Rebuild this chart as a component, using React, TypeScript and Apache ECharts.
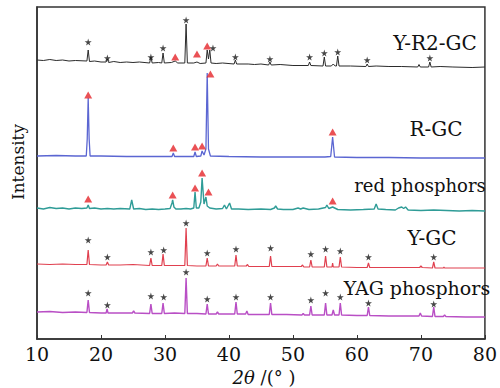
import React, { useEffect, useRef } from "react";
import * as echarts from "echarts";

const xTicks = [10, 20, 30, 40, 50, 60, 70, 80];
const seriesNames = ["Y-R2-GC", "R-GC", "red phosphors", "Y-GC", "YAG phosphors"];

const yr2gc: [number, number][] = [
  [10,279],[11,278.5],[12,279.5],[13,278.5],[14,279],[15,278],[16,278.5],[17.8,278],[18.0,289],[18.2,277.5],[19,278],[20,277],[20.8,277],[21.0,280],[21.2,276.5],[22,277.5],[23,276.5],[24,277],[25,276.5],[26,277],[27.6,276],[27.8,282],[28.0,276],[29,276.5],[29.5,276],[29.7,286],[29.9,276],[31,276.5],[31.6,278],[32,276],[33.1,276],[33.3,315],[33.5,276],[34.5,276],[35.0,277],[35.5,275.5],[36.4,276],[36.6,289],[36.8,280],[37.0,289],[37.2,276],[38,275.5],[39,276],[40.8,275],[41.0,279],[41.2,275],[43,275],[44,274.5],[45,275],[46.2,274],[46.4,277],[46.6,274],[48,274.5],[50,273.5],[52.4,273.5],[52.6,277],[52.8,273.5],[54.7,273],[54.9,282],[55.1,273],[56,273],[56.3,275],[56.6,273],[56.8,273],[57.0,283],[57.2,273],[59,273],[61.4,272.5],[61.6,275],[61.8,272.5],[63,273],[65,272.5],[67,272.5],[69.5,272],[69.7,274.5],[69.9,272],[71.2,272],[71.4,277],[71.6,272],[73,272.5],[75,272],[78,271.5],[80,272],
];

const rgc: [number, number][] = [
  [10,183],[13,183.5],[16,183],[17.7,183],[17.85,200],[18.0,241],[18.15,200],[18.3,183],[20,183],[24,182.5],[28,182.5],[31.1,182.5],[31.3,186],[31.5,182.5],[33,182.5],[34.5,182.5],[34.7,187],[34.9,182.5],[35.6,183],[35.8,188],[36.1,184],[36.4,190],[36.6,266],[36.8,190],[37.1,183],[40,182.5],[45,182],[50,182],[55,182],[55.9,182.5],[56.05,192],[56.2,202],[56.35,192],[56.5,182],[60,181.5],[65,181.5],[70,181],[75,181],[80,181],
];

const redPhos: [number, number][] = [
  [10,131],[11,130],[12,131.5],[13,130.5],[14,131],[15,130],[16,131],[17,130.5],[17.8,131],[18.0,134],[18.2,130.5],[19,131],[20,130],[21,130.5],[22,130],[23,130.5],[24.5,130],[24.8,139],[25.1,130],[26,130.5],[27,129.5],[28,130],[29,129.5],[30,130],[30.8,130.5],[31.1,136],[31.2,139],[31.4,132],[31.7,130],[32.5,130],[33.3,130.5],[34,130],[34.5,131],[34.7,147],[34.9,131],[35.3,131],[35.6,137],[35.8,161],[36.1,135],[36.4,142],[36.6,133],[37,131],[38,130],[39,130.5],[39.3,134],[39.6,130],[40.1,136],[40.4,130],[41.5,130],[43,129.5],[45,130],[46.5,129.5],[47.1,131],[47.3,133],[47.6,130],[48.5,129.5],[50,129.5],[50.8,131],[51.2,130],[51.6,131],[52.5,129.5],[54,130],[55.1,131.5],[55.3,134],[55.6,130.5],[56.2,132],[57,129.5],[59,129],[61,129.5],[62.7,130],[63.0,135],[63.3,130],[64.5,129.5],[66,129],[66.5,131],[67,132],[67.3,130.5],[67.6,132],[68,129],[70,128.5],[72,129],[74,128.5],[76,128],[78,128.5],[80,128],
];

const ygc: [number, number][] = [
  [10,75],[12,74.5],[14,75],[16,74.5],[17.8,74.5],[18.0,89],[18.2,74.5],[20,74],[20.8,74],[21.0,77],[21.2,74],[23,74],[25,74.5],[27.6,73.5],[27.8,81],[28.0,73.5],[29.5,73.5],[29.7,85],[29.9,73.5],[31.5,73.5],[33.1,73.5],[33.3,111],[33.5,73.5],[35,73],[36.4,73],[36.6,81],[36.8,73],[38.0,73],[38.2,75],[38.4,73],[40.9,73],[41.1,84],[41.3,73],[42.7,73],[42.9,74.5],[43.1,72.5],[46.3,72.5],[46.5,83],[46.7,72.5],[49,72.5],[51.3,72.5],[51.5,74],[51.7,72],[52.6,72],[52.8,79],[53,72],[54.9,72],[55.1,83],[55.3,72],[56.1,72],[56.2,76],[56.3,72],[57.2,72],[57.4,82],[57.6,72],[60,71.5],[61.6,71.5],[61.8,76],[62,71.5],[65,71.5],[69.8,71.5],[70.0,73],[70.2,71.5],[71.8,71],[72.0,77],[72.2,71],[73.5,71],[73.6,72],[73.7,71],[77,71],[80,71],
];

const yag: [number, number][] = [
  [10,27],[12,27.5],[14,26.5],[16,27],[17.8,26.5],[18.0,39],[18.2,26.5],[20,26],[20.8,26],[20.95,30],[21.1,26],[23,26],[24.9,26],[25.1,28],[25.3,26],[27.6,25.5],[27.8,35],[28,25.5],[29.5,25.5],[29.7,36],[29.9,25.5],[31.5,26],[33.1,25.5],[33.3,61],[33.5,25.5],[35,25.5],[36.4,25],[36.6,35],[36.8,25],[38.0,25],[38.2,27],[38.4,25],[40.9,25],[41.1,37],[41.3,25],[42.6,25],[42.8,28],[43,24.5],[46.3,24.5],[46.5,36],[46.7,24.5],[49,24.5],[51.4,24],[51.6,25.5],[51.8,24],[52.6,24],[52.8,33],[53,24],[54.9,24],[55.1,36],[55.3,24],[56.1,24],[56.3,29],[56.5,24],[57.2,24],[57.4,36],[57.6,24],[60,23.5],[61.6,23.5],[61.8,32],[62,23.5],[65,23],[69.7,23],[69.9,26],[70.1,23],[71.8,22.5],[72.0,32],[72.2,22.5],[73.5,22.5],[73.7,24],[73.9,22.5],[77,22],[80,22],
];

const yagStarPeaks: [number, number][] = [
  [18.0,297],[21.0,281],[27.8,282],[29.7,291],[33.3,319],[37.5,291],[41.0,282],[46.4,280],[52.6,282],[54.9,286],[57.0,287],[61.6,279],[71.4,281],
  [18.0,99],[21.0,82],[27.8,87],[29.8,89],[33.3,116],[36.6,86],[41.1,90],[46.5,91],[52.8,85],[55.1,90],[57.4,88],[61.8,82],[72.0,82],
  [18.0,46],[21.0,34],[27.8,43],[29.8,42],[33.3,67],[36.6,40],[41.1,42],[46.5,42],[52.8,39],[55.1,46],[57.4,42],[61.8,36],[72.0,35],
];

const redPhasePeaks: [number, number][] = [
  [31.6,282],[35.0,285],[36.6,293],
  [18.0,244],[31.3,191],[34.7,192],[35.8,193],[37.1,265],[56.2,207],
  [18.0,140],[31.2,144],[34.7,151],[35.8,166],[36.8,147],[56.2,138],
];

const colors = ["#2b2b2b", "#5b66d2", "#2f9c97", "#e0404f", "#b94fc5"];
const widths = [1, 1.3, 1.4, 1.2, 1.4];
const lineData = [yr2gc, rgc, redPhos, ygc, yag];
const labelPos: [number, number][] = [[435, 43], [436, 129], [420, 185], [432, 238], [417, 288]];
const labelSizes = [20, 20, 18, 20, 19];

const STAR = "path://M50,0 L61,35 L98,35 L68,57 L79,91 L50,70 L21,91 L32,57 L2,35 L39,35 Z";
const SERIF = "DejaVu Serif";

export default function App() {
  const ref = useRef<HTMLDivElement>(null);
  useEffect(() => {
    if (!ref.current) return;
    const chart = echarts.init(ref.current, undefined, { renderer: "svg" });
    const series: any[] = lineData.map((d, i) => ({
      type: "line",
      name: seriesNames[i],
      data: d,
      showSymbol: false,
      symbol: "none",
      lineStyle: { color: colors[i], width: widths[i] },
      z: 2,
    }));
    series.push({
      type: "scatter",
      data: yagStarPeaks,
      symbol: STAR,
      symbolSize: 7,
      itemStyle: { color: "#1a1a1a" },
      z: 3,
    });
    series.push({
      type: "scatter",
      data: redPhasePeaks,
      symbol: "triangle",
      symbolSize: [8, 7],
      itemStyle: { color: "#e5262b" },
      z: 3,
    });
    const graphics: any[] = seriesNames.map((n, i) => ({
      type: "text",
      x: labelPos[i][0],
      y: labelPos[i][1],
      style: { text: n, fontFamily: SERIF, fontSize: labelSizes[i], fill: "#111", align: "center", verticalAlign: "middle" },
    }));
    graphics.push({
      type: "text",
      x: 18,
      y: 162,
      rotation: Math.PI / 2,
      style: { text: "Intensity", fontFamily: SERIF, fontSize: 17, fill: "#111", align: "center", verticalAlign: "middle" },
    });
    graphics.push({
      type: "text",
      x: 264,
      y: 377,
      style: {
        text: "{a|2θ} /(° )",
        fontFamily: SERIF,
        fontSize: 18,
        fill: "#111",
        align: "center",
        verticalAlign: "middle",
        rich: { a: { fontStyle: "italic", fontFamily: SERIF, fontSize: 18, fill: "#111" } },
      },
    });
    chart.setOption({
      animation: false,
      backgroundColor: "#fff",
      grid: { left: 37, right: 10, top: 7, bottom: 49, show: true, borderColor: "#333", borderWidth: 1.5 },
      xAxis: {
        type: "value",
        min: xTicks[0],
        max: xTicks[xTicks.length - 1],
        interval: 10,
        axisLine: { show: true, lineStyle: { color: "#333", width: 1.5 } },
        axisTick: { show: true, inside: true, length: 4, lineStyle: { color: "#333" } },
        axisLabel: { fontFamily: SERIF, fontSize: 19, color: "#111", margin: 5 },
        splitLine: { show: false },
      },
      yAxis: {
        type: "value",
        min: 0,
        max: 332,
        axisLine: { show: true, lineStyle: { color: "#333", width: 1.5 } },
        axisTick: { show: false },
        axisLabel: { show: false },
        splitLine: { show: false },
      },
      series,
      graphic: graphics,
    });
    return () => chart.dispose();
  }, []);
  return <div ref={ref} style={{ position: "fixed", left: 0, top: 0, width: 500, height: 388, background: "#fff" }} />;
}
